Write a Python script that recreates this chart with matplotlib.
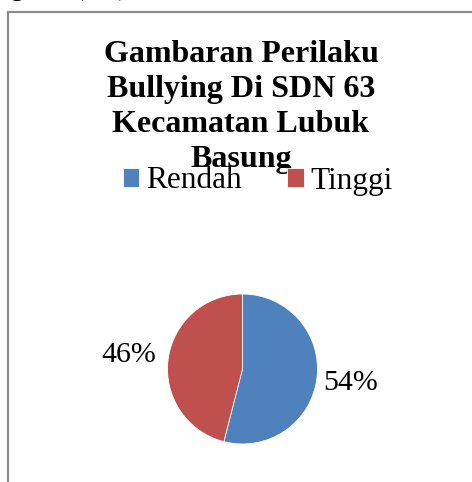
import matplotlib.pyplot as plt
from matplotlib.lines import Line2D

labels = ['Rendah', 'Tinggi']
values = [54, 46]
colors = ['#4F81BD', '#C0504D']
title = 'Gambaran Perilaku\nBullying Di SDN 63\nKecamatan Lubuk\nBasung'

W, H = 472, 482
plt.rcParams['font.family'] = ['Liberation Serif', 'DejaVu Serif']

fig = plt.figure(figsize=(W / 100, H / 100), dpi=100)

# caption line cut off at the top of the page
fig.text(-30 / W, 1 + 5 / H, 'Diagram (4.1)', fontsize=20, va='baseline', ha='left')

# chart frame (only left and top edges visible)
fig.add_artist(Line2D([7.5 / W, 7.5 / W], [0, 1 - 11.5 / H], color='#8c8c8c', lw=1.6,
                      transform=fig.transFigure))
fig.add_artist(Line2D([7.5 / W, 1.0], [1 - 11.5 / H, 1 - 11.5 / H], color='#8c8c8c', lw=1.6,
                      transform=fig.transFigure))

fig.text(241 / W, 1 - 40 / H, title, fontsize=23, fontweight='bold',
         ha='center', va='top', linespacing=1.28)

ax = fig.add_axes([(242.5 - 75) / W, (H - 369 - 75) / H, 150 / W, 150 / H])
wedges, texts, autotexts = ax.pie(values, colors=colors, startangle=90, counterclock=False,
                                  autopct='%d%%', pctdistance=1.45,
                                  wedgeprops=dict(edgecolor='white', linewidth=0.6),
                                  textprops=dict(fontsize=21.5))
x, y = autotexts[1].get_position()
autotexts[1].set_position((x * 1.53 / 1.45, y * 1.53 / 1.45))
ax.set_xlim(-1, 1)
ax.set_ylim(-1, 1)

fig.legend(wedges, labels, loc='center', bbox_to_anchor=(258 / W, 1 - 181 / H),
           ncol=2, frameon=False, fontsize=22.5, handlelength=0.52, handleheight=0.52,
           handletextpad=0.23, columnspacing=1.45, borderpad=0, borderaxespad=0)

fig.savefig('out.png', dpi=100)
